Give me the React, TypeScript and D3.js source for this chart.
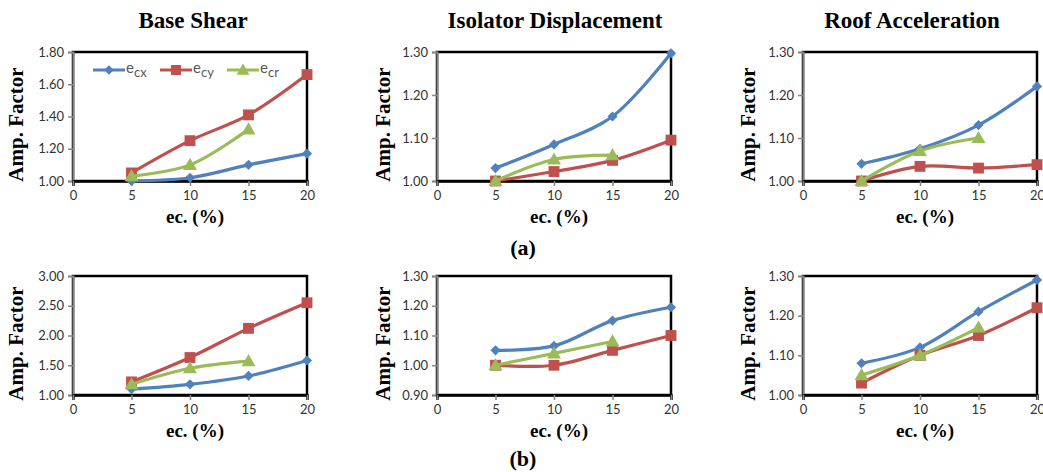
import React, { useEffect, useRef } from 'react';
import * as d3 from 'd3';

// eccentricity values and x tick labels
const ecValues = [5, 10, 15, 20];
const xTicks = [0, 5, 10, 15, 20];

// (a) Base Shear
const shearA_ecx = [1.0, 1.02, 1.1, 1.17];
const shearA_ecy = [1.05, 1.25, 1.41, 1.66];
const shearA_ecr = [1.03, 1.1, 1.32];
// (a) Isolator Displacement
const dispA_ecx = [1.03, 1.085, 1.15, 1.297];
const dispA_ecy = [1.0, 1.022, 1.048, 1.095];
const dispA_ecr = [1.0, 1.05, 1.06];
// (a) Roof Acceleration
const accA_ecx = [1.04, 1.075, 1.13, 1.22];
const accA_ecy = [1.0, 1.034, 1.03, 1.038];
const accA_ecr = [1.0, 1.07, 1.1];

// (b) Base Shear
const shearB_ecx = [1.1, 1.18, 1.32, 1.58];
const shearB_ecy = [1.22, 1.63, 2.12, 2.55];
const shearB_ecr = [1.18, 1.45, 1.57];
// (b) Isolator Displacement
const dispB_ecx = [1.05, 1.065, 1.15, 1.195];
const dispB_ecy = [1.0, 1.0, 1.05, 1.1];
const dispB_ecr = [1.0, 1.04, 1.08];
// (b) Roof Acceleration
const accB_ecx = [1.08, 1.12, 1.21, 1.29];
const accB_ecy = [1.03, 1.1, 1.15, 1.22];
const accB_ecr = [1.05, 1.1, 1.17];

// y tick labels per panel
const yTicksShearA = [1.0, 1.2, 1.4, 1.6, 1.8];
const yTicksOne = [1.0, 1.1, 1.2, 1.3];
const yTicksShearB = [1.0, 1.5, 2.0, 2.5, 3.0];
const yTicksDispB = [0.9, 1.0, 1.1, 1.2, 1.3];

const titles = ['Base Shear', 'Isolator Displacement', 'Roof Acceleration'];
const seriesLabels = ['cx', 'cy', 'cr'];
const colors = ['#4F81BD', '#C0504D', '#9BBB59'];

const panels = [
  { col: 0, row: 0, ticks: yTicksShearA, series: [shearA_ecx, shearA_ecy, shearA_ecr], legend: true },
  { col: 1, row: 0, ticks: yTicksOne, series: [dispA_ecx, dispA_ecy, dispA_ecr] },
  { col: 2, row: 0, ticks: yTicksOne, series: [accA_ecx, accA_ecy, accA_ecr] },
  { col: 0, row: 1, ticks: yTicksShearB, series: [shearB_ecx, shearB_ecy, shearB_ecr] },
  { col: 1, row: 1, ticks: yTicksDispB, series: [dispB_ecx, dispB_ecy, dispB_ecr] },
  { col: 2, row: 1, ticks: yTicksOne, series: [accB_ecx, accB_ecy, accB_ecr] },
];

const colLeft = [73, 437, 803];
const plotW = 234;
const rowTop = [52, 276];
const rowBottom = [181, 395];
const yLabelX = [16, 383, 748];
const titleCenter = [193, 555, 912];

const tickFont = 'Lato, "Open Sans", sans-serif';
const serif = '"Liberation Serif", "Times New Roman", serif';

const drawMarker = (g: any, type: number, x: number, y: number, color: string, k = 1) => {
  if (type === 0) {
    g.append('path')
      .attr('d', d3.symbol().type(d3.symbolSquare).size(52 * k)())
      .attr('transform', `translate(${x},${y}) rotate(45)`)
      .attr('fill', color);
  } else if (type === 1) {
    g.append('path')
      .attr('d', d3.symbol().type(d3.symbolSquare).size(118 * k)())
      .attr('transform', `translate(${x},${y})`)
      .attr('fill', color);
  } else {
    g.append('path')
      .attr('d', d3.symbol().type(d3.symbolTriangle).size(85 * k)())
      .attr('transform', `translate(${x},${y + 1})`)
      .attr('fill', color);
  }
};

const App = () => {
  const ref = useRef<SVGSVGElement>(null);

  useEffect(() => {
    const svg = d3.select(ref.current);
    svg.selectAll('*').remove();

    // column titles and row captions
    titles.forEach((t, i) => {
      svg.append('text').attr('x', titleCenter[i]).attr('y', 28)
        .attr('text-anchor', 'middle').attr('font-family', serif)
        .attr('font-weight', 'bold').attr('font-size', 23).text(t);
    });
    svg.append('text').attr('x', 523).attr('y', 255).attr('text-anchor', 'middle')
      .attr('font-family', serif).attr('font-weight', 'bold').attr('font-size', 22).text('(a)');
    svg.append('text').attr('x', 523).attr('y', 466).attr('text-anchor', 'middle')
      .attr('font-family', serif).attr('font-weight', 'bold').attr('font-size', 22).text('(b)');

    panels.forEach((p) => {
      const x0 = colLeft[p.col];
      const top = rowTop[p.row];
      const bottom = rowBottom[p.row];
      const xScale = d3.scaleLinear().domain([0, 20]).range([x0, x0 + plotW]);
      const yScale = d3.scaleLinear().domain(d3.extent(p.ticks) as [number, number]).range([bottom, top]);
      const g = svg.append('g');

      // frame
      g.append('rect').attr('x', x0).attr('y', top).attr('width', plotW).attr('height', bottom - top)
        .attr('fill', 'white').attr('stroke', 'black').attr('stroke-width', 2.5);

      // y axis
      const yAxis = g.append('g').attr('transform', `translate(${x0},0)`)
        .call(d3.axisLeft(yScale).tickValues(p.ticks).tickFormat(d3.format('.2f')).tickSize(5).tickPadding(4));
      yAxis.select('.domain').attr('stroke', '#868686').attr('stroke-width', 2);
      yAxis.selectAll('line').attr('stroke', '#868686').attr('stroke-width', 1.5);
      yAxis.selectAll('text').attr('font-family', tickFont).attr('font-size', 13).attr('fill', '#333');

      // x axis
      const xAxis = g.append('g').attr('transform', `translate(0,${bottom})`)
        .call(d3.axisBottom(xScale).tickValues(xTicks).tickSize(5).tickPadding(5));
      xAxis.select('.domain').attr('stroke', 'black').attr('stroke-width', 2.5);
      xAxis.selectAll('line').attr('stroke', '#868686').attr('stroke-width', 1.5);
      xAxis.selectAll('text').attr('font-family', tickFont).attr('font-size', 13).attr('fill', '#333');

      // axis titles
      g.append('text')
        .attr('transform', `translate(${yLabelX[p.col] + 7},${(top + bottom) / 2 + 8}) rotate(-90)`)
        .attr('text-anchor', 'middle').attr('font-family', serif).attr('font-weight', 'bold')
        .attr('font-size', 21).text('Amp. Factor');
      g.append('text').attr('x', x0 + plotW / 2 + 5).attr('y', bottom + 42)
        .attr('text-anchor', 'middle').attr('font-family', serif).attr('font-weight', 'bold')
        .attr('font-size', 19).text('ec. (%)');

      // series
      const line = d3.line<number>()
        .x((d, i) => xScale(ecValues[i]))
        .y((d) => yScale(d))
        .curve(d3.curveCatmullRom.alpha(0.5));
      p.series.forEach((vals, si) => {
        g.append('path').attr('d', line(vals)).attr('fill', 'none')
          .attr('stroke', colors[si]).attr('stroke-width', 3.2);
        vals.forEach((v, i) => drawMarker(g, si, xScale(ecValues[i]), yScale(v), colors[si]));
      });

      // legend
      if (p.legend) {
        const ly = top + 18;
        const starts = [93, 160, 227];
        seriesLabels.forEach((lab, si) => {
          const sx = starts[si];
          g.append('line').attr('x1', sx).attr('x2', sx + 32).attr('y1', ly).attr('y2', ly)
            .attr('stroke', colors[si]).attr('stroke-width', 3);
          drawMarker(g, si, sx + 16, ly, colors[si], 0.85);
          const t = g.append('text').attr('x', sx + 33).attr('y', ly + 3)
            .attr('font-family', tickFont).attr('font-size', 15).attr('fill', '#595959');
          t.append('tspan').text('e');
          t.append('tspan').attr('font-size', 13).attr('dy', 4).text(lab);
        });
      }
    });
  }, []);

  return (
    <svg ref={ref} width={1043} height={472}
      style={{ position: 'absolute', left: 0, top: 0, background: 'white' }} />
  );
};

export default App;
